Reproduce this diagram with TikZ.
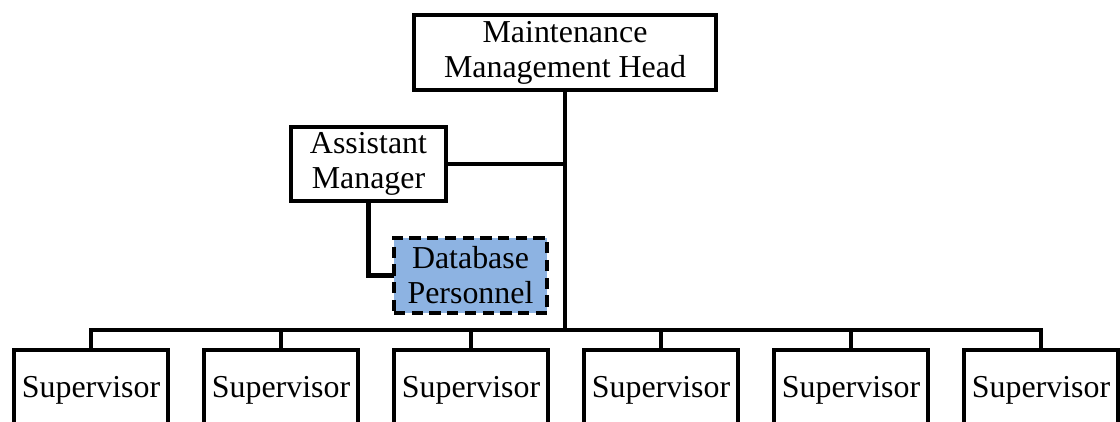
\documentclass[tikz,border=0pt]{standalone}
\usepackage{fontspec}
\setmainfont{Liberation Serif}
\usetikzlibrary{positioning}
\definecolor{dbblue}{HTML}{8DB3E2}

\begin{document}
\begin{tikzpicture}[
  font=\fontsize{22.7}{24.9}\selectfont,
  role/.style={draw,line width=3.1pt,align=center,inner sep=0pt,outer sep=0pt,fill=white},
  staff/.style={role,dash pattern=on 8pt off 4.6pt,fill=dbblue},
  sv/.style={role,minimum width=3.85cm,minimum height=2cm},
  ln/.style={line width=3.1pt}
]
\useasboundingbox (0,0) rectangle (28,-10.525);
\node[role,minimum width=7.55cm,minimum height=1.875cm] (head) at (14.125,-1.3125) {Maintenance\\Management Head};
\node[role,minimum width=3.875cm,minimum height=1.85cm] (asst) at (9.2125,-4.1) {Assistant\\Manager};
\node[staff,minimum width=3.825cm,minimum height=1.875cm] (db) at (11.7625,-6.8875) {Database\\Personnel};
\node[sv] (s1) at (2.275,-9.75) {Supervisor};
\node[sv,right=0.9cm of s1] (s2) {Supervisor};
\node[sv,right=0.9cm of s2] (s3) {Supervisor};
\node[sv,right=0.9cm of s3] (s4) {Supervisor};
\node[sv,right=0.9cm of s4] (s5) {Supervisor};
\node[sv,right=0.9cm of s5] (s6) {Supervisor};
\coordinate (bus) at ([yshift=0.5cm]s1.north);
\draw[ln] (head.south) -- (head.south |- bus);
\draw[ln] (asst.east) -- (asst.east -| head.south);
\draw[ln] (asst.south) |- (db.west);
\draw[ln] (s1.north) -- (bus) -| (s6.north);
\draw[ln] (s2.north) -- (s2.north |- bus); \draw[ln] (s3.north) -- (s3.north |- bus);
\draw[ln] (s4.north) -- (s4.north |- bus); \draw[ln] (s5.north) -- (s5.north |- bus);
\end{tikzpicture}
\end{document}
